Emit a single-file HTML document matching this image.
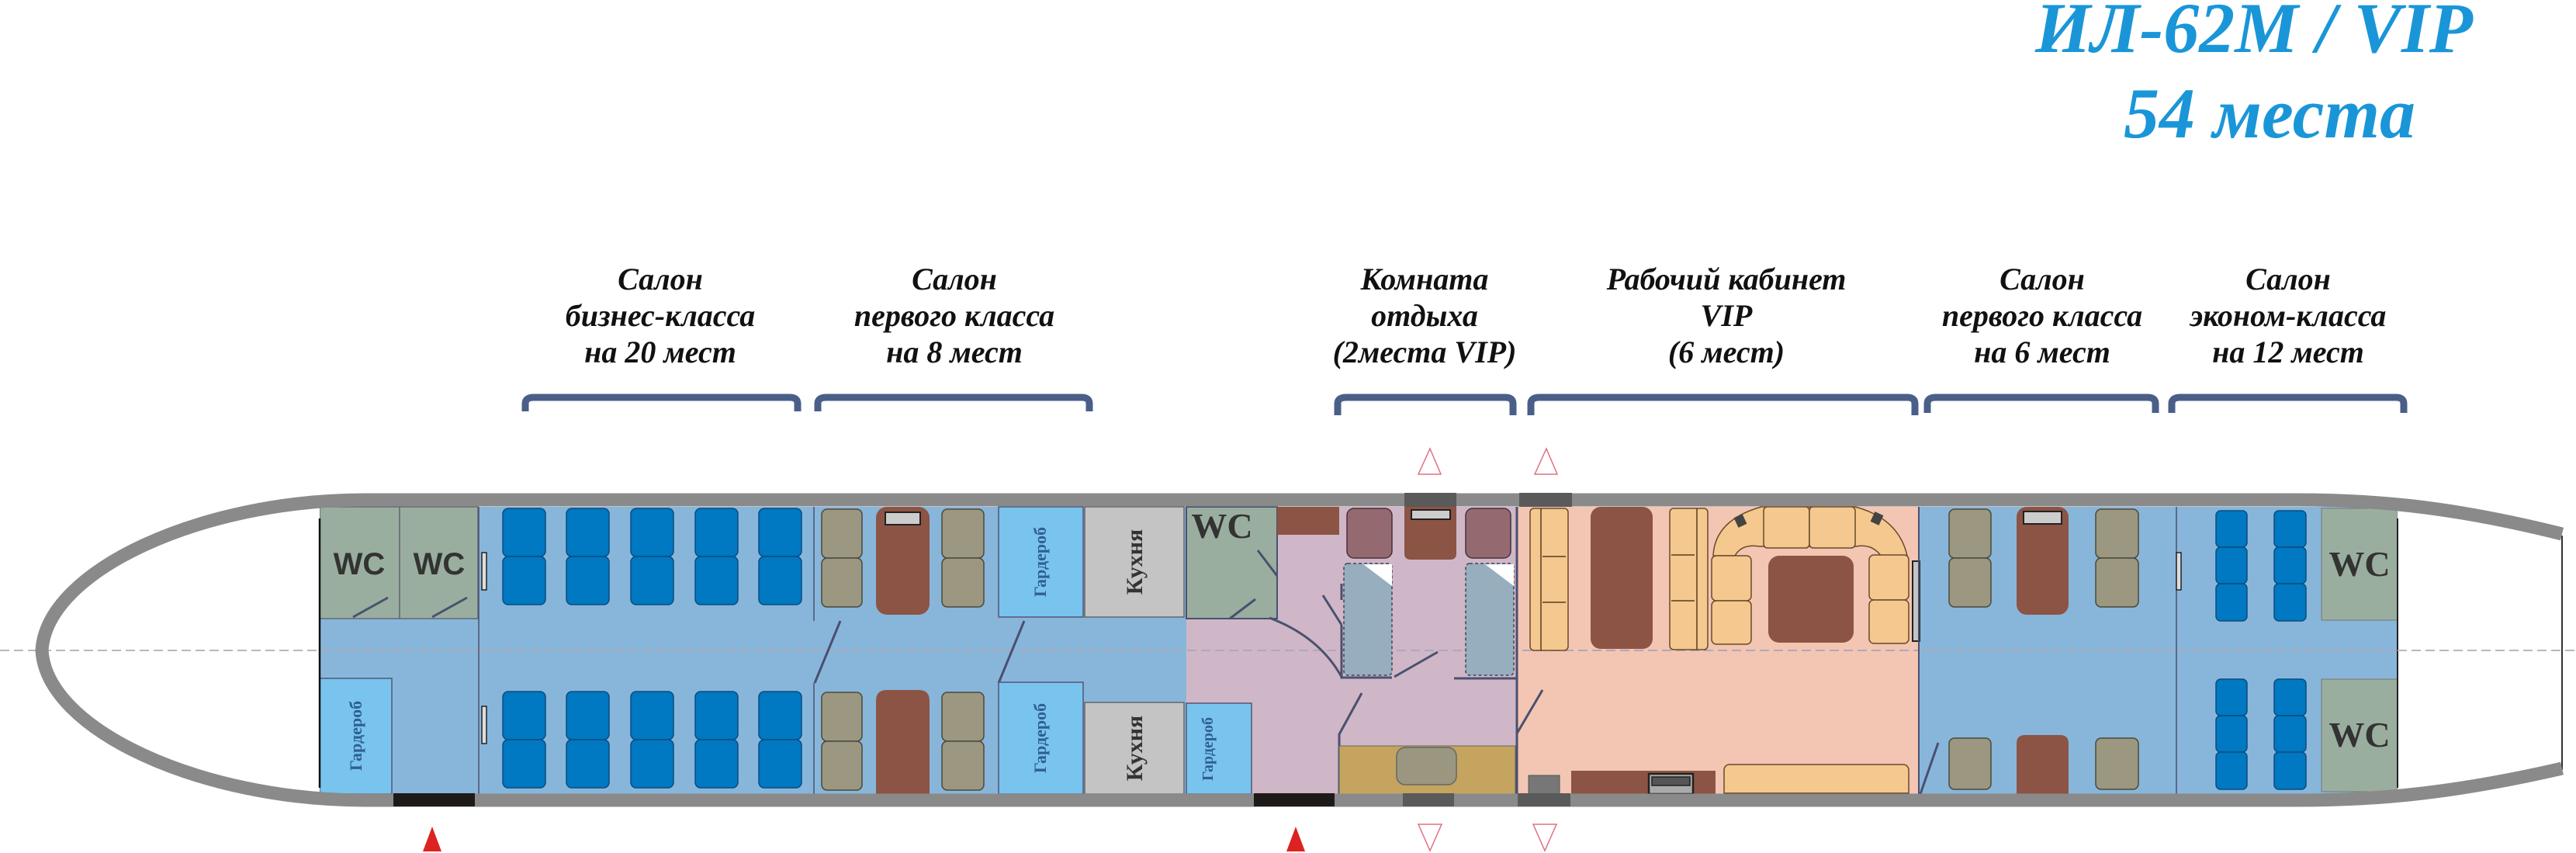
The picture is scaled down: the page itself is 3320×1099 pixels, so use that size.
<!DOCTYPE html>
<html><head><meta charset="utf-8"><style>
html,body{margin:0;padding:0;background:#fff}
svg{display:block}
.h{font-family:"Liberation Serif",serif;font-weight:bold;font-style:italic;font-size:40px;fill:#111;text-anchor:middle}
.t{font-family:"Liberation Serif",serif;font-weight:bold;font-style:italic;font-size:92px;fill:#1a96d8;text-anchor:middle}
.wc{font-family:"Liberation Sans",sans-serif;font-weight:bold;font-size:40px;fill:#333;text-anchor:middle}
.wcs{font-family:"Liberation Serif",serif;font-weight:bold;font-size:46px;fill:#333;text-anchor:middle}
.g{font-family:"Liberation Serif",serif;font-weight:bold;font-size:22px;fill:#2f5e94;text-anchor:middle}
.k{font-family:"Liberation Serif",serif;font-weight:bold;font-size:30px;fill:#333;text-anchor:middle}
.bs{fill:#0078c2;stroke:#0b4d7e;stroke-width:1.5}
.gs{fill:#9b9780;stroke:#4a4a3a;stroke-width:1.5}
.ps{fill:#946a70;stroke:#4a3038;stroke-width:1.5}
.br{fill:#8c5444}
.so{fill:#f4c88e;stroke:#6a4a2a;stroke-width:1.5}
.ln{stroke:#4a5070;stroke-width:3;fill:none}
.br2{fill:none;stroke:#4a5f88;stroke-width:9}
</style></head><body>
<svg width="3320" height="1099" viewBox="0 0 3320 1099" xmlns="http://www.w3.org/2000/svg">
<text class="t" x="2905" y="67">ИЛ-62М / VIP</text>
<text class="t" x="2925" y="177">54 места</text>
<g>
<text class="h" x="851" y="373">Салон</text><text class="h" x="851" y="420">бизнес-класса</text><text class="h" x="851" y="467">на 20 мест</text>
<text class="h" x="1230" y="373">Салон</text><text class="h" x="1230" y="420">первого класса</text><text class="h" x="1230" y="467">на 8 мест</text>
<text class="h" x="1836" y="373">Комната</text><text class="h" x="1836" y="420">отдыха</text><text class="h" x="1836" y="467">(2места VIP)</text>
<text class="h" x="2225" y="373">Рабочий кабинет</text><text class="h" x="2225" y="420">VIP</text><text class="h" x="2225" y="467">(6 мест)</text>
<text class="h" x="2632" y="373">Салон</text><text class="h" x="2632" y="420">первого класса</text><text class="h" x="2632" y="467">на 6 мест</text>
<text class="h" x="2949" y="373">Салон</text><text class="h" x="2949" y="420">эконом-класса</text><text class="h" x="2949" y="467">на 12 мест</text>
</g>
<g class="br2">
<path d="M677,530 V520 Q677,512 688,512 H1018 Q1028,512 1028,520 V530"/>
<path d="M1054,530 V520 Q1054,512 1065,512 H1394 Q1404,512 1404,520 V530"/>
<path d="M1724,535 V520 Q1724,512 1735,512 H1940 Q1950,512 1950,520 V535"/>
<path d="M1973,535 V520 Q1973,512 1984,512 H2458 Q2468,512 2468,520 V535"/>
<path d="M2484,532 V520 Q2484,512 2495,512 H2768 Q2778,512 2778,520 V532"/>
<path d="M2799,532 V520 Q2799,512 2810,512 H3088 Q3098,512 3098,520 V532"/>
</g>
<rect x="412" y="653" width="1117" height="370" fill="#88b6da"/>
<rect x="1529" y="653" width="426" height="370" fill="#cfb7c7"/>
<rect x="1955" y="653" width="518" height="370" fill="#f3c5b3"/>
<rect x="2473" y="653" width="617" height="370" fill="#88b6da"/>
<line x1="0" y1="838" x2="3320" y2="838" stroke="#b0a8b8" stroke-width="2" stroke-dasharray="12,6"/>
<rect x="412" y="653" width="103" height="144" fill="#9aae9f" stroke="#667" stroke-width="1.5"/>
<rect x="515" y="653" width="101" height="144" fill="#9aae9f" stroke="#667" stroke-width="1.5"/>
<text class="wc" x="463" y="740">WC</text><text class="wc" x="566" y="740">WC</text>
<path class="ln" d="M455,795 L500,770 M557,795 L602,770" stroke-width="2"/>
<rect x="412" y="874" width="93" height="149" fill="#78c4ee" stroke="#557" stroke-width="1.5"/>
<text class="g" transform="translate(466,948) rotate(-90)">Гардероб</text>
<line x1="617" y1="653" x2="617" y2="1023" stroke="#4a5070" stroke-width="1.5"/>
<rect x="621" y="712" width="6" height="48" fill="#ddd" stroke="#222" stroke-width="1.5"/>
<rect x="621" y="910" width="6" height="48" fill="#ddd" stroke="#222" stroke-width="1.5"/>
<g>
<rect class="bs" x="648" y="655" width="55" height="62" rx="7"/><rect class="bs" x="648" y="717" width="55" height="62" rx="7"/>
<rect class="bs" x="730" y="655" width="55" height="62" rx="7"/><rect class="bs" x="730" y="717" width="55" height="62" rx="7"/>
<rect class="bs" x="813" y="655" width="55" height="62" rx="7"/><rect class="bs" x="813" y="717" width="55" height="62" rx="7"/>
<rect class="bs" x="896" y="655" width="55" height="62" rx="7"/><rect class="bs" x="896" y="717" width="55" height="62" rx="7"/>
<rect class="bs" x="978" y="655" width="55" height="62" rx="7"/><rect class="bs" x="978" y="717" width="55" height="62" rx="7"/>
<rect class="bs" x="648" y="891" width="55" height="62" rx="7"/><rect class="bs" x="648" y="953" width="55" height="62" rx="7"/>
<rect class="bs" x="730" y="891" width="55" height="62" rx="7"/><rect class="bs" x="730" y="953" width="55" height="62" rx="7"/>
<rect class="bs" x="813" y="891" width="55" height="62" rx="7"/><rect class="bs" x="813" y="953" width="55" height="62" rx="7"/>
<rect class="bs" x="896" y="891" width="55" height="62" rx="7"/><rect class="bs" x="896" y="953" width="55" height="62" rx="7"/>
<rect class="bs" x="978" y="891" width="55" height="62" rx="7"/><rect class="bs" x="978" y="953" width="55" height="62" rx="7"/>
</g>
<line x1="1049" y1="653" x2="1049" y2="800" stroke="#4a5070" stroke-width="1.5"/>
<line x1="1049" y1="880" x2="1049" y2="1023" stroke="#4a5070" stroke-width="1.5"/>
<path class="ln" d="M1083,800 L1050,880 M1320,800 L1287,880" stroke-width="2"/>
<rect class="gs" x="1059" y="656" width="52" height="63" rx="7"/><rect class="gs" x="1059" y="719" width="52" height="63" rx="7"/>
<rect class="gs" x="1214" y="656" width="54" height="63" rx="7"/><rect class="gs" x="1214" y="719" width="54" height="63" rx="7"/>
<rect class="br" x="1129" y="653" width="69" height="139" rx="14"/>
<rect x="1141" y="660" width="45" height="16" fill="#ccc" stroke="#222" stroke-width="2"/>
<rect class="gs" x="1059" y="892" width="52" height="63" rx="7"/><rect class="gs" x="1059" y="955" width="52" height="63" rx="7"/>
<rect class="gs" x="1214" y="892" width="54" height="63" rx="7"/><rect class="gs" x="1214" y="955" width="54" height="63" rx="7"/>
<path class="br" d="M1129,1023 V903 Q1129,889 1143,889 H1184 Q1198,889 1198,903 V1023 Z"/>
<rect x="1287" y="653" width="109" height="142" fill="#78c4ee" stroke="#557" stroke-width="1.5"/>
<text class="g" transform="translate(1348,724) rotate(-90)">Гардероб</text>
<rect x="1287" y="879" width="109" height="144" fill="#78c4ee" stroke="#557" stroke-width="1.5"/>
<text class="g" transform="translate(1348,951) rotate(-90)">Гардероб</text>
<rect x="1398" y="653" width="128" height="142" fill="#c4c4c4" stroke="#666" stroke-width="1.5"/>
<text class="k" transform="translate(1472,724) rotate(-90)">Кухня</text>
<rect x="1398" y="905" width="128" height="118" fill="#c4c4c4" stroke="#666" stroke-width="1.5"/>
<text class="k" transform="translate(1472,964) rotate(-90)">Кухня</text>
<rect x="1529" y="653" width="117" height="144" fill="#9aae9f" stroke="#4a5070" stroke-width="2"/>
<text class="wcs" x="1575" y="693">WC</text>
<path class="ln" d="M1621,709 L1646,742 M1585,797 L1618,772" stroke-width="2"/>
<path class="ln" d="M1636,796 Q1700,820 1729,872" stroke-width="2"/>
<rect class="br" x="1646" y="653" width="80" height="36"/>
<rect x="1529" y="906" width="84" height="117" fill="#78c4ee" stroke="#557" stroke-width="1.5"/>
<text class="g" transform="translate(1563,965) rotate(-90)" style="font-size:20px">Гардероб</text>
<rect class="ps" x="1736" y="655" width="58" height="64" rx="9"/>
<rect class="ps" x="1889" y="655" width="58" height="64" rx="9"/>
<path class="br" d="M1810,653 H1877 V713 Q1877,721 1869,721 H1818 Q1810,721 1810,713 Z"/>
<rect x="1819" y="657" width="50" height="12" fill="#ccc" stroke="#222" stroke-width="2"/>
<rect x="1732" y="726" width="62" height="144" rx="5" fill="#96aebe" stroke="#445" stroke-width="1.5" stroke-dasharray="4,3"/>
<rect x="1889" y="726" width="62" height="144" rx="5" fill="#96aebe" stroke="#445" stroke-width="1.5" stroke-dasharray="4,3"/>
<path d="M1757,727 L1794,727 L1794,755 Z" fill="#fff"/><path d="M1914,727 L1951,727 L1951,755 Z" fill="#fff"/>
<path class="ln" d="M1729,805 V873 H1794 M1797,872 L1853,840 M1874,874 H1955 M1705,767 L1729,805 M1729,752 V773" stroke-width="2.5"/>
<path class="ln" d="M1755,893 L1726,946 V1023" stroke-width="2.5"/>
<line x1="1955" y1="653" x2="1955" y2="1023" stroke="#4a5070" stroke-width="3"/>
<rect x="1726" y="961" width="227" height="62" fill="#c4a45e" stroke="#666" stroke-width="1"/>
<rect x="1800" y="963" width="77" height="48" rx="11" fill="#9a9680" stroke="#666" stroke-width="1.5"/>
<path class="ln" d="M1988,889 L1955,945" stroke-width="2.5"/>
<rect class="so" x="1972" y="655" width="49" height="183" rx="5"/>
<path d="M1986,655 V838 M1988,717 H2018 M1988,776 H2018" stroke="#5a3a1a" stroke-width="1.5"/>
<rect class="br" x="2050" y="653" width="80" height="183" rx="13"/>
<rect class="so" x="2152" y="655" width="49" height="182" rx="5"/>
<path d="M2187,655 V837 M2154,715 H2184 M2154,774 H2184" stroke="#5a3a1a" stroke-width="1.5"/>
<path class="so" d="M2208,716 Q2210,670 2270,653 H2391 Q2447,668 2458,716 V719 H2426 Q2415,700 2392,704 H2268 Q2245,700 2236,716 Z"/>
<rect class="so" x="2273" y="653" width="59" height="53" rx="5"/><rect class="so" x="2332" y="653" width="59" height="53" rx="5"/>
<rect x="2237" y="664" width="12" height="14" fill="#444" transform="rotate(-25 2243 671)"/>
<rect x="2413" y="661" width="12" height="14" fill="#444" transform="rotate(25 2419 668)"/>
<rect class="so" x="2206" y="716" width="51" height="58" rx="6"/><rect class="so" x="2206" y="774" width="51" height="56" rx="6"/>
<rect class="so" x="2409" y="715" width="51" height="58" rx="6"/><rect class="so" x="2409" y="773" width="51" height="56" rx="6"/>
<rect class="br" x="2279" y="716" width="110" height="112" rx="14"/>
<rect x="2465" y="723" width="9" height="103" fill="#c4c4c4" stroke="#222" stroke-width="2"/>
<rect x="1970" y="999" width="40" height="24" fill="#777" stroke="#555" stroke-width="1"/>
<rect class="br" x="2025" y="993" width="186" height="30"/>
<rect x="2125" y="997" width="57" height="26" fill="#aaa" stroke="#222" stroke-width="2.5"/>
<rect x="2129" y="1001" width="49" height="11" fill="#555" stroke="#222" stroke-width="1.5"/>
<rect class="so" x="2222" y="985" width="238" height="50" rx="7"/>
<path d="M2222,1022 H2460" stroke="#5a3a1a" stroke-width="1.5"/>
<line x1="2473" y1="653" x2="2473" y2="1023" stroke="#4a5070" stroke-width="2"/>
<path class="ln" d="M2498,957 L2475,1023" stroke-width="2.5"/>
<rect class="gs" x="2512" y="656" width="54" height="63" rx="7"/><rect class="gs" x="2512" y="719" width="54" height="63" rx="7"/>
<rect class="gs" x="2701" y="656" width="55" height="63" rx="7"/><rect class="gs" x="2701" y="719" width="55" height="63" rx="7"/>
<rect class="br" x="2599" y="653" width="67" height="139" rx="13"/>
<rect x="2608" y="659" width="49" height="16" fill="#ccc" stroke="#222" stroke-width="2"/>
<rect class="gs" x="2512" y="951" width="54" height="66" rx="7"/>
<rect class="gs" x="2701" y="951" width="55" height="66" rx="7"/>
<path class="br" d="M2599,1023 V958 Q2599,947 2610,947 H2655 Q2666,947 2666,958 V1023 Z"/>
<line x1="2805" y1="653" x2="2805" y2="1023" stroke="#4a5070" stroke-width="1.5"/>
<rect x="2805" y="712" width="6" height="48" fill="#ddd" stroke="#222" stroke-width="1.5"/>
<g>
<rect class="bs" x="2856" y="658" width="40" height="47" rx="6"/><rect class="bs" x="2856" y="705" width="40" height="47" rx="6"/><rect class="bs" x="2856" y="752" width="40" height="48" rx="6"/>
<rect class="bs" x="2931" y="658" width="41" height="47" rx="6"/><rect class="bs" x="2931" y="705" width="41" height="47" rx="6"/><rect class="bs" x="2931" y="752" width="41" height="48" rx="6"/>
<rect class="bs" x="2856" y="875" width="40" height="47" rx="6"/><rect class="bs" x="2856" y="922" width="40" height="47" rx="6"/><rect class="bs" x="2856" y="969" width="40" height="48" rx="6"/>
<rect class="bs" x="2931" y="875" width="41" height="47" rx="6"/><rect class="bs" x="2931" y="922" width="41" height="47" rx="6"/><rect class="bs" x="2931" y="969" width="41" height="48" rx="6"/>
</g>
<rect x="2992" y="655" width="98" height="144" fill="#9aae9f" stroke="#777" stroke-width="1"/>
<rect x="2992" y="875" width="98" height="145" fill="#9aae9f" stroke="#777" stroke-width="1"/>
<text class="wcs" x="3041" y="742">WC</text><text class="wcs" x="3041" y="962">WC</text>
<rect x="3090" y="653" width="230" height="370" fill="#fff"/>
<line x1="3090" y1="668" x2="3090" y2="1015" stroke="#222" stroke-width="2"/>
<line x1="3302" y1="690" x2="3302" y2="992" stroke="#333" stroke-width="2"/>
<path d="M0,600 H412 V1060 H0 Z" fill="#fff"/>
<line x1="412" y1="668" x2="412" y2="1015" stroke="#111" stroke-width="2.5"/>
<line x1="0" y1="838" x2="412" y2="838" stroke="#b8b8b8" stroke-width="2" stroke-dasharray="12,6"/>
<line x1="3090" y1="838" x2="3320" y2="838" stroke="#b8b8b8" stroke-width="2" stroke-dasharray="12,6"/>
<path d="M3302,688 C3150,650 3050,644 2960,644 L470,644 C260,644 60,735 54,838 C60,941 260,1031 470,1031 L2960,1031 C3050,1031 3150,1025 3302,990" fill="none" stroke="#8a8a8a" stroke-width="17"/>
<rect x="507" y="1022" width="105" height="17" fill="#1e1a18"/>
<rect x="1616" y="1022" width="104" height="17" fill="#1e1a18"/>
<rect x="1810" y="635" width="67" height="18" fill="#5a5a5a"/>
<rect x="1958" y="635" width="68" height="18" fill="#5a5a5a"/>
<rect x="1808" y="1022" width="66" height="17" fill="#5a5a5a"/>
<rect x="1956" y="1022" width="68" height="17" fill="#5a5a5a"/>
<path d="M557,1065 L569,1097 H545 Z" fill="#dd2222"/>
<path d="M1670,1065 L1682,1097 H1658 Z" fill="#dd2222"/>
<path d="M1843,578 L1857,611 H1828 Z" fill="none" stroke="#e07080" stroke-width="1.5"/>
<path d="M1993,578 L2007,611 H1978 Z" fill="none" stroke="#e07080" stroke-width="1.5"/>
<path d="M1828,1062 H1858 L1843,1096 Z" fill="none" stroke="#e07080" stroke-width="1.5"/>
<path d="M1976,1062 H2006 L1991,1096 Z" fill="none" stroke="#e07080" stroke-width="1.5"/>
</svg>
</body></html>
